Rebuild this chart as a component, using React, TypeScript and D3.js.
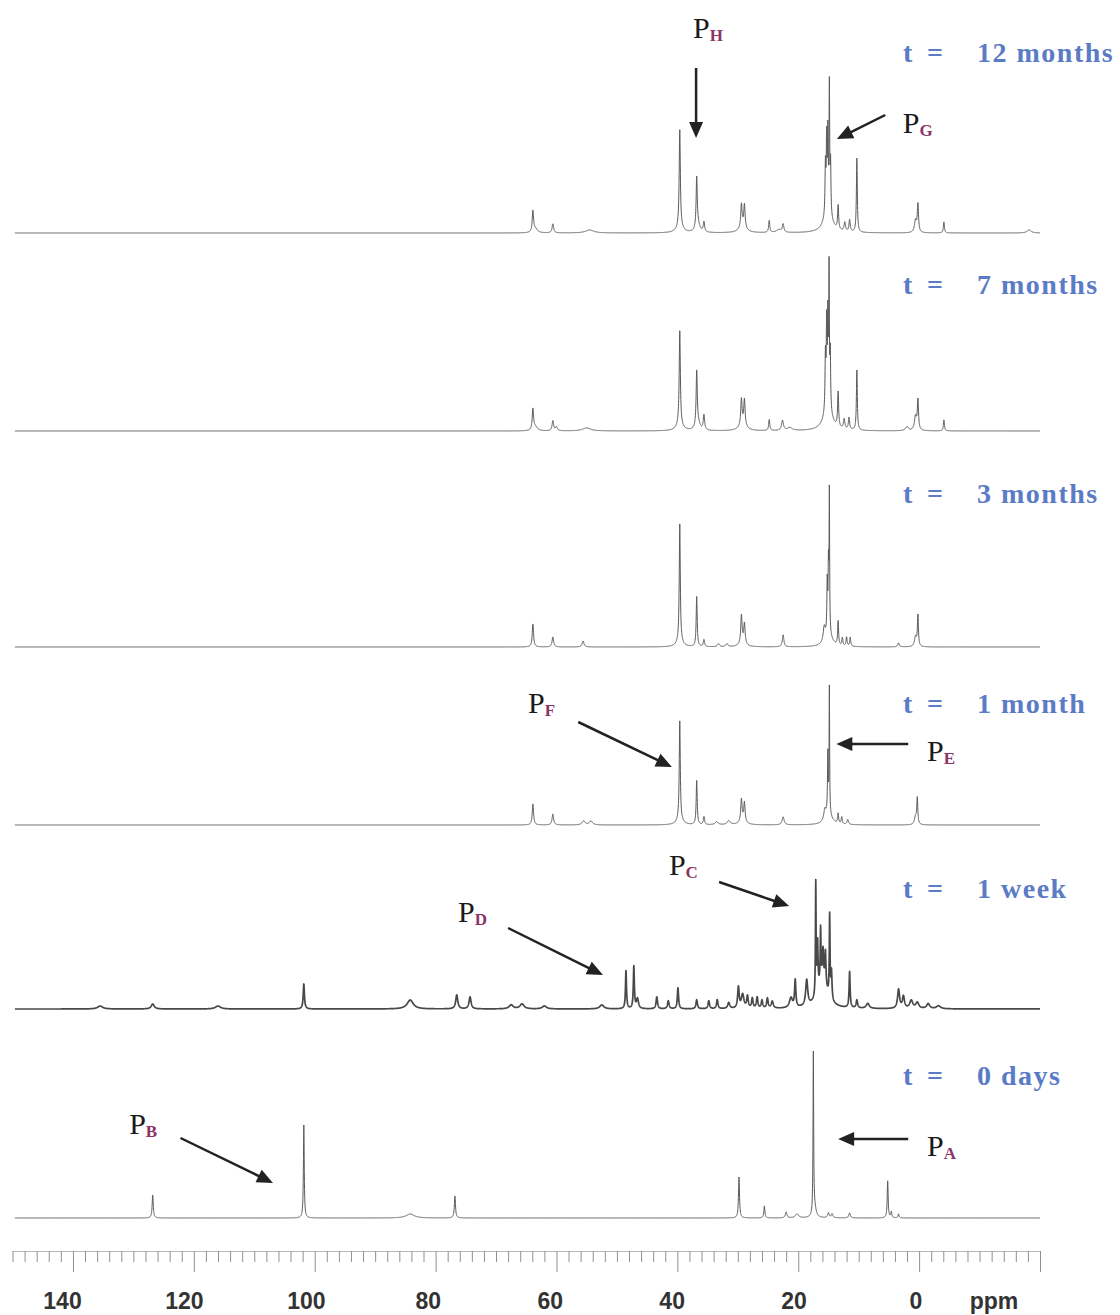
import React from "react";
import * as d3 from "d3";

type Peak = [number, number, number]; // [ppm, intensity, half-width (ppm)]

const TIME_LABELS = ["12 months", "7 months", "3 months", "1 month", "1 week", "0 days"];
const AXIS_LABELS = [140, 120, 100, 80, 60, 40, 20, 0];

const PEAKS_12M: Peak[] = [
  [63.9, 21, 0.13], [63.5, 4, 0.4], [60.6, 9, 0.15], [54.5, 3, 0.8],
  [39.6, 97, 0.11], [39.6, 6, 0.6], [36.8, 50, 0.11], [36.6, 8, 0.4], [35.6, 10, 0.13],
  [29.4, 23, 0.13], [28.9, 23, 0.13], [29.2, 6, 0.7],
  [24.8, 12, 0.11], [22.5, 8, 0.15], [23.2, 3, 0.5],
  [15.5, 50, 0.08], [15.3, 70, 0.07], [15.1, 75, 0.07], [14.85, 128, 0.06], [14.65, 50, 0.07], [15.1, 20, 0.8],
  [13.4, 24, 0.1], [12.3, 9, 0.14], [11.5, 12, 0.12], [10.3, 74, 0.09],
  [0.6, 12, 0.2], [0.2, 28, 0.12], [-4.1, 11, 0.1], [-18.2, 3, 0.4],
];

const PEAKS_7M: Peak[] = [
  [63.9, 21, 0.13], [63.5, 4, 0.4], [60.6, 10, 0.15], [60.0, 4, 0.18], [55.0, 3, 0.8],
  [39.6, 94, 0.11], [39.6, 6, 0.6], [36.8, 54, 0.11], [36.6, 8, 0.4], [35.6, 15, 0.13],
  [29.4, 26, 0.13], [28.9, 26, 0.13], [29.2, 6, 0.7],
  [24.8, 11, 0.11], [22.6, 10, 0.18], [21.4, 3, 0.5],
  [15.5, 55, 0.08], [15.3, 80, 0.07], [15.1, 85, 0.07], [14.9, 135, 0.06], [14.7, 55, 0.07], [15.1, 22, 0.8],
  [13.4, 35, 0.1], [12.4, 10, 0.14], [11.6, 12, 0.12], [10.3, 60, 0.09],
  [2.0, 4, 0.3], [0.6, 14, 0.2], [0.2, 30, 0.12], [-4.1, 11, 0.1],
];

const PEAKS_3M: Peak[] = [
  [63.9, 23, 0.13], [60.6, 10, 0.15], [55.6, 6, 0.18],
  [39.6, 118, 0.1], [39.6, 5, 0.6], [36.8, 50, 0.1], [35.6, 7, 0.12], [33.2, 3, 0.2], [31.8, 3, 0.2],
  [29.4, 28, 0.13], [28.9, 20, 0.13], [29.2, 4, 0.6],
  [22.5, 12, 0.15],
  [15.7, 14, 0.2], [15.2, 50, 0.07], [15.0, 65, 0.07], [14.85, 140, 0.05], [15.0, 12, 0.7],
  [13.4, 24, 0.09], [12.7, 8, 0.1], [12.0, 9, 0.1], [11.4, 9, 0.1],
  [3.4, 4, 0.15], [0.6, 10, 0.2], [0.2, 31, 0.1],
];

const PEAKS_1M: Peak[] = [
  [63.9, 21, 0.13], [60.6, 11, 0.15], [55.5, 4, 0.3], [54.3, 4, 0.3],
  [39.6, 99, 0.1], [39.6, 5, 0.6], [36.8, 44, 0.1], [35.6, 8, 0.12], [33.5, 3, 0.3], [31.5, 4, 0.3],
  [29.4, 22, 0.13], [28.9, 19, 0.13], [29.2, 4, 0.6],
  [22.5, 8, 0.2],
  [15.6, 10, 0.2], [15.1, 60, 0.07], [14.85, 130, 0.05], [15.0, 10, 0.7],
  [13.4, 10, 0.1], [12.8, 7, 0.1], [11.8, 5, 0.14],
  [0.6, 8, 0.2], [0.3, 26, 0.1],
];

const PEAKS_1W: Peak[] = [
  [135.5, 3, 0.5], [126.8, 5, 0.3], [116.0, 3, 0.5], [101.8, 25, 0.12], [84.2, 9, 0.6],
  [76.5, 14, 0.2], [74.3, 12, 0.2], [67.5, 4, 0.4], [65.7, 5, 0.4], [62.0, 3, 0.4],
  [52.5, 4, 0.4], [48.5, 38, 0.1], [47.2, 42, 0.1], [46.6, 10, 0.2], [43.4, 12, 0.14],
  [41.5, 8, 0.15], [39.9, 21, 0.12], [36.8, 9, 0.14], [34.8, 8, 0.14], [33.4, 9, 0.14], [31.5, 6, 0.2],
  [29.9, 21, 0.15], [29.2, 14, 0.25], [28.4, 12, 0.15], [27.6, 10, 0.14], [26.8, 11, 0.14],
  [26.0, 8, 0.14], [25.1, 10, 0.14], [24.3, 7, 0.2],
  [21.2, 10, 0.3], [20.5, 27, 0.12], [18.6, 26, 0.2],
  [17.1, 112, 0.06], [16.8, 48, 0.09], [16.3, 52, 0.07], [15.9, 28, 0.1], [15.5, 33, 0.1],
  [14.8, 82, 0.07], [14.5, 28, 0.1], [16.0, 30, 0.9],
  [11.5, 36, 0.1], [10.3, 8, 0.14], [8.5, 5, 0.3],
  [3.4, 19, 0.2], [2.6, 12, 0.2], [1.3, 8, 0.3], [0.3, 6, 0.3], [-1.5, 5, 0.3], [-3.2, 3, 0.4],
];

const PEAKS_0D: Peak[] = [
  [126.8, 23, 0.11], [101.8, 93, 0.08], [84.2, 4, 0.8], [76.8, 22, 0.11],
  [29.8, 41, 0.1], [25.6, 12, 0.1], [22.0, 6, 0.15], [20.2, 4, 0.3],
  [17.5, 160, 0.06], [17.3, 10, 0.3], [15.0, 5, 0.15], [14.4, 4, 0.15], [11.5, 5, 0.15],
  [5.2, 37, 0.09], [4.6, 6, 0.1], [3.4, 4, 0.1],
];

const SPECTRA: Peak[][] = [PEAKS_12M, PEAKS_7M, PEAKS_3M, PEAKS_1M, PEAKS_1W, PEAKS_0D];

// annotation anchors in data units: [ppm, intensity above the panel baseline]
const ANNOTATIONS = [
  { panel: 0, sub: "H", label: [37.4, 195], tail: [36.9, 165], tip: [36.9, 95] },
  { panel: 0, sub: "G", label: [2.7, 100], tail: [5.6, 118], tip: [13.6, 94] },
  { panel: 3, sub: "F", label: [64.7, 112], tail: [56.4, 103], tip: [40.9, 58] },
  { panel: 3, sub: "E", label: [-1.3, 64], tail: [1.8, 81], tip: [13.7, 81] },
  { panel: 4, sub: "C", label: [41.4, 134], tail: [33.1, 127], tip: [21.5, 103] },
  { panel: 4, sub: "D", label: [76.3, 87], tail: [68.0, 81], tip: [52.3, 34] },
  { panel: 5, sub: "B", label: [130.7, 84], tail: [122.2, 80], tip: [106.9, 35] },
  { panel: 5, sub: "A", label: [-1.3, 62], tail: [1.8, 79], tip: [13.4, 79] },
];

function intensity(peaks: Peak[], p: number): number {
  let s = 0;
  for (const [c, h, w] of peaks) {
    const d = (p - c) / w;
    s += h / (1 + d * d);
  }
  return s;
}

const BASELINES = [233, 431, 647, 825, 1009, 1218];
const TEXT_Y = [62, 294, 503, 713, 898, 1085];
const SERIF = "'Liberation Serif', 'Times New Roman', serif";
const SANS = "'Liberation Sans', Arial, sans-serif";

export default function App() {
  const x = d3.scaleLinear().domain([150, -20]).range([12.5, 1040]);
  const xl = d3.scaleLinear().domain([140, 0]).range([62.5, 916]);
  const grid = d3.range(149.6, -20.0001, -0.02);

  const yFor = (i: number) =>
    d3.scaleLinear().domain([0, 100]).range([BASELINES[i], BASELINES[i] - 100]);

  const paths = SPECTRA.map((peaks, i) => {
    const y = yFor(i);
    const line = d3
      .line<number>()
      .x((p) => x(p))
      .y((p) => y(intensity(peaks, p)));
    return line(grid) || "";
  });

  const ticks = d3.range(150, -20.001, -2).map((v) => Math.round(v));

  return (
    <svg
      width={1120}
      height={1315}
      style={{ position: "absolute", left: 0, top: 0, background: "#fff" }}
    >
      <rect x={0} y={0} width={1120} height={1315} fill="#fff" />
      {paths.map((d, i) => (
        <path
          key={i}
          d={d}
          fill="none"
          stroke={i === 4 ? "#484848" : "#5a5a5a"}
          strokeWidth={i === 4 ? 1.7 : 1}
          strokeLinejoin="round"
        />
      ))}

      {/* time labels */}
      {TIME_LABELS.map((t, i) => (
        <g key={t} fill="#5b7bc6" fontFamily={SERIF} fontWeight="bold" fontSize={28}>
          <text x={903} y={TEXT_Y[i]}>t</text>
          <text x={927} y={TEXT_Y[i]}>=</text>
          <text x={977} y={TEXT_Y[i]} letterSpacing={1.5}>{t}</text>
        </g>
      ))}

      {/* annotations */}
      {ANNOTATIONS.map((a) => {
        const y = yFor(a.panel);
        const tx = x(a.tail[0]), ty = y(a.tail[1]);
        const px = x(a.tip[0]), py = y(a.tip[1]);
        const dx = px - tx, dy = py - ty;
        const len = Math.hypot(dx, dy);
        const ux = dx / len, uy = dy / len;
        const hl = 16, hw = 7;
        const bx = px - ux * hl, by = py - uy * hl;
        const head = `M${px},${py}L${bx - uy * hw},${by + ux * hw}L${bx + uy * hw},${by - ux * hw}Z`;
        return (
          <g key={a.sub}>
            <line
              x1={tx}
              y1={ty}
              x2={px - ux * (hl - 2)}
              y2={py - uy * (hl - 2)}
              stroke="#222"
              strokeWidth={2.5}
            />
            <path d={head} fill="#222" />
            <text x={x(a.label[0])} y={y(a.label[1])} fontFamily={SERIF}>
              <tspan fontSize={30} fill="#1a1a1a">P</tspan>
              <tspan fontSize={17} fontWeight="bold" fill="#8a3566" dy={3}>
                {a.sub}
              </tspan>
            </text>
          </g>
        );
      })}

      {/* axis */}
      <line x1={x(150)} x2={x(-20)} y1={1251.5} y2={1251.5} stroke="#b8b8b8" strokeWidth={1} />
      {ticks.map((v) => (
        <line
          key={v}
          x1={x(v) + 0.5}
          x2={x(v) + 0.5}
          y1={1251}
          y2={v % 20 === 0 ? 1272 : 1262}
          stroke="#909090"
          strokeWidth={1}
        />
      ))}
      {AXIS_LABELS.map((v) => (
        <text
          key={v}
          x={xl(v)}
          y={1309}
          textAnchor="middle"
          fontFamily={SANS}
          fontWeight="bold"
          fontSize={23}
          fill="#333"
        >
          {v}
        </text>
      ))}
      <text x={994} y={1309} textAnchor="middle" fontFamily={SANS} fontWeight="bold" fontSize={23} fill="#333">
        ppm
      </text>
    </svg>
  );
}
